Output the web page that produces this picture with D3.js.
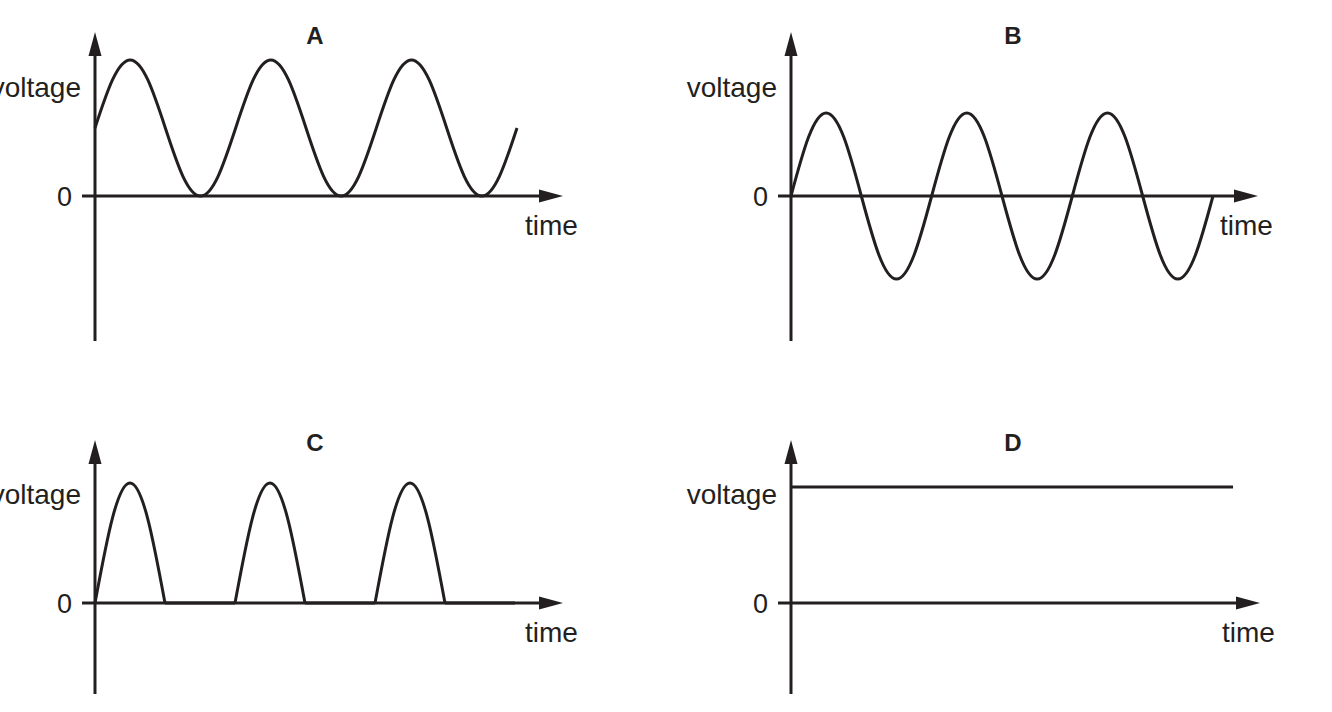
<!DOCTYPE html>
<html>
<head>
<meta charset="utf-8">
<script src="https://cdn.jsdelivr.net/npm/d3@7/dist/d3.min.js"></script>
<style>
  html, body { margin: 0; padding: 0; background: #fff; }
  svg { display: block; }
  text { font-family: "Liberation Sans", Arial, Helvetica, sans-serif; fill: #231f20; }
</style>
</head>
<body>
<svg id="chart" width="1332" height="712"></svg>
<script>
// ---- Data (time in quarter-periods, voltage in arbitrary units) ----
const panelTitles = ["A", "B", "C", "D"];
const axisLabelY = "voltage";
const axisLabelX = "time";
const zeroTick = "0";

// A: varying DC (always >= 0), sampled every eighth period
const timeA    = [0, 0.5, 1, 1.5, 2, 2.5, 3, 3.5, 4, 4.5, 5, 5.5, 6, 6.5, 7, 7.5, 8, 8.5, 9, 9.5, 10, 10.5, 11, 11.5, 12];
const voltageA = [1, 1.71, 2, 1.71, 1, 0.29, 0, 0.29, 1, 1.71, 2, 1.71, 1, 0.29, 0, 0.29, 1, 1.71, 2, 1.71, 1, 0.29, 0, 0.29, 1];

// B: alternating
const timeB    = [0, 0.5, 1, 1.5, 2, 2.5, 3, 3.5, 4, 4.5, 5, 5.5, 6, 6.5, 7, 7.5, 8, 8.5, 9, 9.5, 10, 10.5, 11, 11.5, 12];
const voltageB = [0, 0.71, 1, 0.71, 0, -0.71, -1, -0.71, 0, 0.71, 1, 0.71, 0, -0.71, -1, -0.71, 0, 0.71, 1, 0.71, 0, -0.71, -1, -0.71, 0];

// C: half-wave rectified — humps then flat zero
const humpTimesC = [[0, 0.5, 1, 1.5, 2], [4, 4.5, 5, 5.5, 6], [8, 8.5, 9, 9.5, 10]];
const humpVoltC  = [0, 0.71, 1, 0.71, 0];
const flatTimesC = [[2, 4], [6, 8], [10, 12]];

// D: steady DC
const timeD    = [0, 12.6];
const voltageD = [1, 1];

// ---- Layout ----
const svg = d3.select("#chart");
const ink = "#231f20";
const fs = 28;

function panel(opt) {
  const g = svg.append("g");
  const x = d3.scaleLinear().domain([0, 12]).range([opt.x0, opt.x0 + opt.tw]);
  const y = d3.scaleLinear().domain([0, 1]).range([opt.y0, opt.y0 - opt.unit]);

  // x-axis (starting slightly left of the y-axis, forming the "0" tick)
  g.append("line").attr("x1", opt.x0 - 13).attr("x2", opt.xTip - 20)
    .attr("y1", y(0)).attr("y2", y(0))
    .attr("stroke", ink).attr("stroke-width", 3);
  g.append("path")
    .attr("d", `M${opt.xTip},${y(0)} L${opt.xTip - 24},${y(0) - 6.5} L${opt.xTip - 24},${y(0) + 6.5} Z`)
    .attr("fill", ink);

  // y-axis
  g.append("line").attr("x1", opt.x0).attr("x2", opt.x0)
    .attr("y1", opt.yBottom).attr("y2", opt.yTip + 20)
    .attr("stroke", ink).attr("stroke-width", 3);
  g.append("path")
    .attr("d", `M${opt.x0},${opt.yTip} L${opt.x0 - 6.5},${opt.yTip + 24} L${opt.x0 + 6.5},${opt.yTip + 24} Z`)
    .attr("fill", ink);

  // labels
  g.append("text").attr("x", opt.x0 - 23).attr("y", y(0) + 10)
    .attr("text-anchor", "end").attr("font-size", 27).text(zeroTick);
  g.append("text").attr("x", opt.x0 - 14).attr("y", y(0) - 99)
    .attr("text-anchor", "end").attr("font-size", fs).text(axisLabelY);
  g.append("text").attr("x", opt.xTip - 38).attr("y", y(0) + 39)
    .attr("text-anchor", "start").attr("font-size", fs).text(axisLabelX);
  g.append("text").attr("x", opt.titleX).attr("y", opt.y0 - 152)
    .attr("text-anchor", "middle").attr("font-size", 24).attr("font-weight", "bold").text(opt.title);

  return { g, x, y };
}

function drawCurve(p, ts, vs, curve) {
  const line = d3.line().x(d => p.x(d[0])).y(d => p.y(d[1])).curve(curve);
  p.g.append("path").datum(d3.zip(ts, vs))
    .attr("d", line).attr("fill", "none")
    .attr("stroke", ink).attr("stroke-width", 3).attr("stroke-linejoin", "round");
}

// Panel A
const pA = panel({ x0: 95, tw: 422, y0: 196, unit: 68, xTip: 563, yTip: 32, yBottom: 341, titleX: 315, title: panelTitles[0] });
drawCurve(pA, timeA, voltageA, d3.curveNatural);

// Panel B
const pB = panel({ x0: 791, tw: 422, y0: 196, unit: 83, xTip: 1258, yTip: 32, yBottom: 341, titleX: 1013, title: panelTitles[1] });
drawCurve(pB, timeB, voltageB, d3.curveNatural);

// Panel C
const pC = panel({ x0: 95, tw: 420, y0: 603, unit: 120, xTip: 563, yTip: 440, yBottom: 694, titleX: 315, title: panelTitles[2] });
humpTimesC.forEach(ts => drawCurve(pC, ts, humpVoltC, d3.curveNatural));
flatTimesC.forEach(ts => drawCurve(pC, ts, [0, 0], d3.curveLinear));

// Panel D
const pD = panel({ x0: 791, tw: 421, y0: 603, unit: 116, xTip: 1260, yTip: 440, yBottom: 694, titleX: 1013, title: panelTitles[3] });
drawCurve(pD, timeD, voltageD, d3.curveLinear);
</script>
</body>
</html>
